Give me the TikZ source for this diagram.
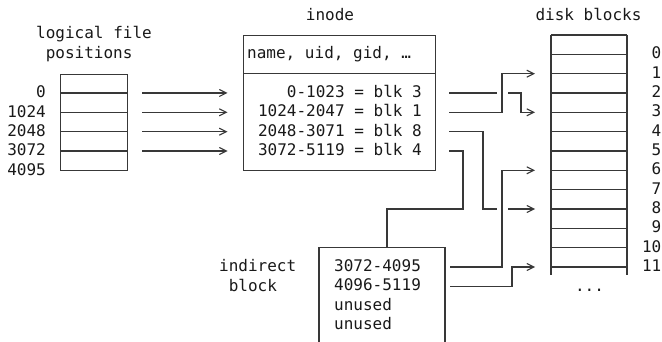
\documentclass[tikz,border=0pt]{standalone}
\usepackage{fontspec}
\setmainfont{DejaVu Sans Mono}
\usetikzlibrary{arrows.meta}
\begin{document}
\begin{tikzpicture}[x=1pt,y=-1pt,
  rule/.style={line width=1.1pt, draw=black!78, line cap=butt},
  link/.style={rule, -{Straight Barb[length=7pt,width=7pt,line width=1.1pt]}},
  bridge/.style={draw=white, line width=11pt},
  txt/.style={inner sep=0pt, font=\fontsize{16}{19.3}\selectfont, text=black!90}]
\useasboundingbox (0,0) rectangle (662,342);

% ---- logical file positions ----
\node[txt,anchor=base west] (lfa) at (36,38.5) {logical file};
\node[txt,anchor=base west] (lfb) at (45.6,58.5) {positions};
\node[draw,rule,minimum width=67pt,minimum height=96.6pt,inner sep=0pt,anchor=north west] (file) at (60,73.7) {};
\foreach \y in {93.0,112.3,131.7,151.0} \draw[rule] (60,\y) -- (127,\y);
\node[txt,anchor=base east] (p0) at (46,98.0) {0};
\node[txt,anchor=base east] (p1) at (46,117.3) {1024};
\node[txt,anchor=base east] (p2) at (46,136.7) {2048};
\node[txt,anchor=base east] (p3) at (46,156.0) {3072};
\node[txt,anchor=base east] (p4) at (46,175.3) {4095};

% ---- inode ----
\node[txt,anchor=base] (inodet) at (330,20.3) {inode};
\node[draw,rule,minimum width=192pt,minimum height=135.3pt,inner sep=0pt,anchor=north west] (inode) at (243,35) {};
\draw[rule] (243,73.7) -- (435,73.7);
\node[txt,anchor=base west] (meta) at (247,59) {name, uid, gid, …};
\node[txt,anchor=base east] (r0) at (422,97.6) {0-1023 = blk 3};
\node[txt,anchor=base east] (r1) at (422,116.9) {1024-2047 = blk 1};
\node[txt,anchor=base east] (r2) at (422,136.3) {2048-3071 = blk 8};
\node[txt,anchor=base east] (r3) at (422,155.6) {3072-5119 = blk 4};

% ---- disk blocks ----
\node[txt,anchor=base] (diskt) at (588.5,20.3) {disk blocks};
\foreach \k in {0,...,12} \draw[rule] (551,{35+19.333*\k}) -- (627,{35+19.333*\k});
\draw[rule] (551,35) -- (551,275) (627,35) -- (627,275);
\foreach \k in {0,...,11}
  \node[txt,anchor=base east] (d\k) at (661.5,{35+19.333*(\k+1)+4.6}) {\k};
\node[txt,anchor=base] (more) at (589.5,291) {...};

% ---- indirect block ----
\node[txt,anchor=base west] (indt) at (219,271.5) {indirect};
\node[txt,anchor=base west] (indb) at (228.6,291) {block};
\coordinate (ind) at (387,247.7);
\draw[rule] (319,342) -- (319,247.7) -- (445,247.7) -- (445,342);
\node[txt,anchor=base west] (i0) at (334,271.5) {3072-4095};
\node[txt,anchor=base west] (i1) at (334,290.8) {4096-5119};
\node[txt,anchor=base west] (i2) at (334,310.2) {unused};
\node[txt,anchor=base west] (i3) at (334,329.5) {unused};

% ---- connector end points ----
\foreach \n/\y in {0/93.0,1/112.3,2/131.7,3/151.0} {
  \coordinate (fs\n) at (142,\y);
  \coordinate (fe\n) at (227.5,\y);
  \coordinate (rs\n) at (449,\y);
}
\coordinate (is0) at (450,267.0);
\coordinate (is1) at (450,286.3);
\coordinate (blk1) at (535,73.7);
\coordinate (blk3) at (535,112.3);
\coordinate (blk6) at (535,170.3);
\coordinate (blk8) at (535,209.0);
\coordinate (blk11) at (535,267.0);

% file positions -> inode
\foreach \n in {0,...,3} \draw[link] (fs\n) -- (fe\n);

% inode entries -> disk blocks
\draw[link] (rs0) -- (521,93.0) |- (blk3);
\draw[link] (rs2) -- (483,131.7) |- (blk8);
\draw[rule] (rs3) -- (463,151.0) |- (387,209.0) -- (ind);
% vertical runs that hop over other lines
\path[bridge] (502,112.3) -- (502,73.7);
\draw[link] (rs1) -- (502,112.3) |- (blk1);
\path[bridge] (502,267.0) -- (502,170.3);
\draw[link] (is0) -- (502,267.0) |- (blk6);
\draw[link] (is1) -- (512,286.3) |- (blk11);
\end{tikzpicture}
\end{document}
